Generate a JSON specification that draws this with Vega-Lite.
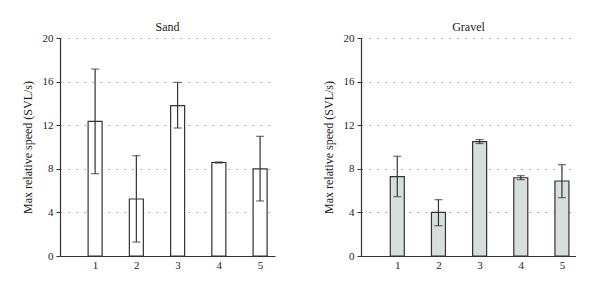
{
  "$schema": "https://vega.github.io/schema/vega-lite/v6.json",
  "padding": {"left": 21, "top": 21, "right": 0, "bottom": 0},
  "background": "white",
  "datasets": {
    "speeds": [
      {"surface": "Sand", "trial": 1, "mean": 12.35, "lo": 7.55, "hi": 17.15},
      {"surface": "Sand", "trial": 2, "mean": 5.23, "lo": 1.28, "hi": 9.2},
      {"surface": "Sand", "trial": 3, "mean": 13.8, "lo": 11.74, "hi": 15.93},
      {"surface": "Sand", "trial": 4, "mean": 8.58, "lo": 8.53, "hi": 8.63},
      {"surface": "Sand", "trial": 5, "mean": 8.0, "lo": 5.05, "hi": 10.98},
      {"surface": "Gravel", "trial": 1, "mean": 7.28, "lo": 5.44, "hi": 9.15},
      {"surface": "Gravel", "trial": 2, "mean": 4.0, "lo": 2.78, "hi": 5.17},
      {"surface": "Gravel", "trial": 3, "mean": 10.49, "lo": 10.32, "hi": 10.68},
      {"surface": "Gravel", "trial": 4, "mean": 7.18, "lo": 7.0, "hi": 7.37},
      {"surface": "Gravel", "trial": 5, "mean": 6.88, "lo": 5.35, "hi": 8.38}
    ]
  },
  "data": {"name": "speeds"},
  "spacing": 47,
  "config": {
    "font": "Liberation Serif",
    "view": {"stroke": null},
    "axis": {
      "labelFont": "Liberation Serif",
      "titleFont": "Liberation Serif",
      "labelFontSize": 11,
      "titleFontSize": 12,
      "titleFontWeight": "normal",
      "labelColor": "#222",
      "titleColor": "#222",
      "domainColor": "#333",
      "tickColor": "#333",
      "domainWidth": 1.2
    },
    "title": {"font": "Liberation Serif", "fontSize": 12, "fontWeight": "normal", "color": "#222", "offset": -2}
  },
  "hconcat": [
    {
      "title": "Sand",
      "width": 215,
      "height": 218,
      "transform": [{"filter": "datum.surface === 'Sand'"}],
      "layer": [
        {
          "mark": {"type": "bar", "size": 14, "stroke": "#333", "strokeWidth": 1.2},
          "encoding": {
            "x": {"field": "trial", "type": "quantitative", "scale": {"domain": [0.27, 5.24], "nice": false, "zero": false},
              "axis": {"values": [1, 2, 3, 4, 5], "ticks": false, "grid": false, "title": null, "labelPadding": 3, "format": "d"}},
            "y": {"field": "mean", "type": "quantitative", "scale": {"domain": [0, 20], "nice": false},
              "axis": {"values": [0, 4, 8, 12, 16, 20], "tickSize": 4, "labelPadding": 3, "titlePadding": 8,
                "title": "Max relative speed (SVL/s)",
                "grid": true, "gridDash": [1.5, 6.5], "gridColor": "#999", "gridWidth": 1.2}},
            "fill": {"field": "surface", "type": "nominal", "scale": {"domain": ["Sand", "Gravel"], "range": ["#ffffff", "#d7dfdc"]}, "legend": null}
          }
        },
        {
          "mark": {"type": "rule", "stroke": "#333", "strokeWidth": 1.2},
          "encoding": {
            "x": {"field": "trial", "type": "quantitative"},
            "y": {"field": "lo", "type": "quantitative"},
            "y2": {"field": "hi"}
          }
        },
        {
          "mark": {"type": "tick", "orient": "horizontal", "size": 8, "thickness": 1.2, "color": "#333"},
          "encoding": {
            "x": {"field": "trial", "type": "quantitative"},
            "y": {"field": "hi", "type": "quantitative"}
          }
        },
        {
          "mark": {"type": "tick", "orient": "horizontal", "size": 8, "thickness": 1.2, "color": "#333"},
          "encoding": {
            "x": {"field": "trial", "type": "quantitative"},
            "y": {"field": "lo", "type": "quantitative"}
          }
        }
      ]
    },
    {
      "title": "Gravel",
      "width": 215,
      "height": 218,
      "transform": [{"filter": "datum.surface === 'Gravel'"}],
      "layer": [
        {
          "mark": {"type": "bar", "size": 14, "stroke": "#333", "strokeWidth": 1.2},
          "encoding": {
            "x": {"field": "trial", "type": "quantitative", "scale": {"domain": [0.24, 5.22], "nice": false, "zero": false},
              "axis": {"values": [1, 2, 3, 4, 5], "ticks": false, "grid": false, "title": null, "labelPadding": 3, "format": "d"}},
            "y": {"field": "mean", "type": "quantitative", "scale": {"domain": [0, 20], "nice": false},
              "axis": {"values": [0, 4, 8, 12, 16, 20], "tickSize": 4, "labelPadding": 3, "titlePadding": 8,
                "title": "Max relative speed (SVL/s)",
                "grid": true, "gridDash": [1.5, 6.5], "gridColor": "#999", "gridWidth": 1.2}},
            "fill": {"field": "surface", "type": "nominal", "scale": {"domain": ["Sand", "Gravel"], "range": ["#ffffff", "#d7dfdc"]}, "legend": null}
          }
        },
        {
          "mark": {"type": "rule", "stroke": "#333", "strokeWidth": 1.2},
          "encoding": {
            "x": {"field": "trial", "type": "quantitative"},
            "y": {"field": "lo", "type": "quantitative"},
            "y2": {"field": "hi"}
          }
        },
        {
          "mark": {"type": "tick", "orient": "horizontal", "size": 8, "thickness": 1.2, "color": "#333"},
          "encoding": {
            "x": {"field": "trial", "type": "quantitative"},
            "y": {"field": "hi", "type": "quantitative"}
          }
        },
        {
          "mark": {"type": "tick", "orient": "horizontal", "size": 8, "thickness": 1.2, "color": "#333"},
          "encoding": {
            "x": {"field": "trial", "type": "quantitative"},
            "y": {"field": "lo", "type": "quantitative"}
          }
        }
      ]
    }
  ]
}
